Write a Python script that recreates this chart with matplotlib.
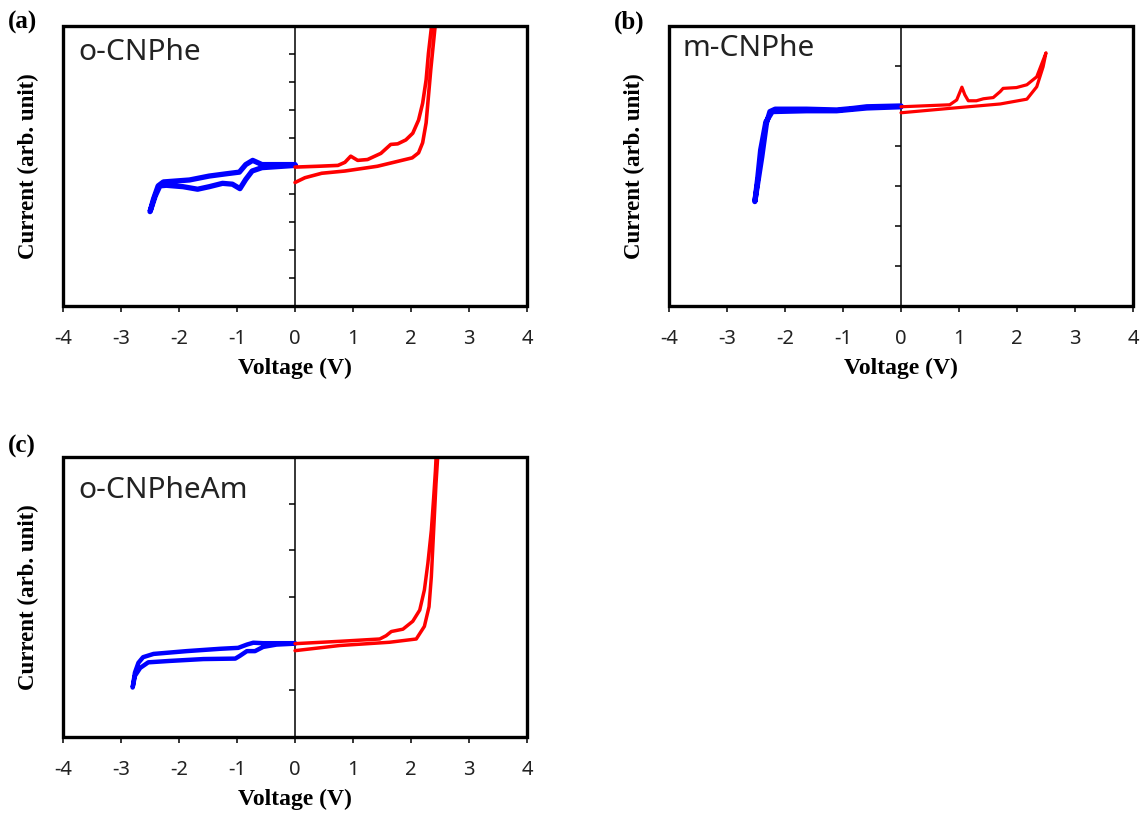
import matplotlib
matplotlib.use('Agg')
import matplotlib.pyplot as plt
from matplotlib.patches import Rectangle

plt.rcParams['axes.unicode_minus'] = False

# ---- data (voltage in V, current in arb. units = y tick steps) ----
# (a) o-CNPhe
a_blue_v = [0, -0.57, -0.73, -0.85, -0.96, -1.19, -1.48, -1.82, -2.27, -2.36, -2.44, -2.50,
            -2.41, -2.33, -2.22, -1.93, -1.68, -1.48, -1.25, -1.08, -0.95, -0.85, -0.74, -0.57, 0]
a_blue_i = [0.05, 0.05, 0.20, 0.05, -0.22, -0.28, -0.36, -0.50, -0.57, -0.71, -1.18, -1.63,
            -1.07, -0.71, -0.69, -0.74, -0.83, -0.74, -0.62, -0.65, -0.81, -0.48, -0.18, -0.06, 0.02]
a_red_v = [0, 0.4, 0.74, 0.86, 0.96, 1.08, 1.25, 1.48, 1.65, 1.77, 1.91, 2.03, 2.13, 2.20, 2.26,
           2.30, 2.34, 2.37, 2.43, 2.38, 2.34, 2.30, 2.26, 2.20, 2.13, 2.02, 1.78, 1.42, 0.86,
           0.46, 0.17, 0]
a_red_i = [-0.04, -0.01, 0.02, 0.13, 0.35, 0.20, 0.23, 0.45, 0.77, 0.79, 0.93, 1.17, 1.64, 2.24,
           3.07, 4.02, 4.74, 5.3, 5.3, 4.27, 3.44, 2.49, 1.54, 0.83, 0.47, 0.29, 0.17, -0.01,
           -0.18, -0.26, -0.42, -0.59]

# (b) m-CNPhe
b_blue_v = [0, -0.59, -0.82, -1.11, -1.63, -2.17, -2.26, -2.32, -2.40, -2.52,
            -2.47, -2.42, -2.33, -2.22, -1.63, -1.11, -0.59, 0]
b_blue_i = [0.0, -0.02, -0.06, -0.10, -0.08, -0.08, -0.14, -0.43, -1.27, -2.39,
            -1.80, -1.10, -0.40, -0.14, -0.12, -0.12, -0.05, -0.02]
b_red_v = [0, 0.84, 0.96, 1.05, 1.10, 1.16, 1.30, 1.42, 1.59, 1.71, 1.76, 1.99, 2.17, 2.34,
           2.50, 2.45, 2.34, 2.17, 1.71, 0.84, 0]
b_red_i = [-0.02, 0.03, 0.15, 0.47, 0.28, 0.13, 0.13, 0.18, 0.21, 0.36, 0.44, 0.46, 0.53, 0.73,
           1.33, 0.98, 0.48, 0.17, 0.05, -0.06, -0.17]

# (c) o-CNPheAm
c_blue_v = [0, -0.55, -0.72, -0.83, -0.98, -1.29, -1.87, -2.44, -2.62, -2.70, -2.76, -2.80,
            -2.76, -2.67, -2.53, -2.16, -1.58, -1.03, -0.95, -0.83, -0.69, -0.55, -0.32, 0]
c_blue_i = [0.01, 0.01, 0.02, -0.02, -0.09, -0.11, -0.16, -0.22, -0.29, -0.41, -0.62, -0.94,
            -0.69, -0.52, -0.40, -0.37, -0.33, -0.32, -0.26, -0.16, -0.16, -0.07, -0.02, 0.0]
c_red_v = [0, 0.77, 1.46, 1.57, 1.66, 1.86, 2.03, 2.15, 2.23, 2.29, 2.35, 2.39, 2.42, 2.44,
           2.47, 2.43, 2.39, 2.35, 2.31, 2.23, 2.09, 1.63, 0.77, 0]
c_red_i = [0, 0.05, 0.10, 0.17, 0.26, 0.31, 0.48, 0.72, 1.15, 1.72, 2.43, 3.13, 3.70, 4.2,
           4.2, 3.42, 2.43, 1.43, 0.79, 0.37, 0.10, 0.03, -0.04, -0.15]

panels = [
    ('(a)', 'o-CNPhe', a_blue_v, a_blue_i, a_red_v, a_red_i, (-5, 5), 3.8, 2.6, (0.032, 0.907)),
    ('(b)', 'm-CNPhe', b_blue_v, b_blue_i, b_red_v, b_red_i, (-5, 2), 3.8, 2.3, (0.028, 0.921)),
    ('(c)', 'o-CNPheAm', c_blue_v, c_blue_i, c_red_v, c_red_i, (-2, 4), 3.2, 2.5, (0.032, 0.882)),
]
positions = [[0.0551, 0.6241, 0.4056, 0.3440],
             [0.5848, 0.6241, 0.4056, 0.3440],
             [0.0551, 0.0946, 0.4056, 0.3440]]
letter_pos = [(0.007, 0.973), (0.537, 0.973), (0.007, 0.451)]

fig = plt.figure(figsize=(11.44, 8.14), dpi=100)
serif = 'Liberation Serif'
sans = 'Noto Sans'

for (tag, name, bv, bi, rv, ri, ylim, blw, rlw, npos), pos, lp in zip(panels, positions, letter_pos):
    ax = fig.add_axes(pos)
    ax.plot(bv, bi, color='#0000FF', lw=blw, solid_joinstyle='round', solid_capstyle='round', zorder=3)
    ax.plot(rv, ri, color='#FF0000', lw=rlw, solid_joinstyle='round', solid_capstyle='round', zorder=3)
    ax.set_xlim(-4, 4)
    ax.set_ylim(*ylim)
    ax.set_xticks(range(-4, 5))
    ax.set_yticks(range(ylim[0] + 1, ylim[1]))
    ax.set_yticklabels([])
    # y axis sits on V = 0
    ax.spines['left'].set_position(('data', 0))
    ax.spines['left'].set_linewidth(1.1)
    for s in ['top', 'right', 'bottom']:
        ax.spines[s].set_visible(False)
    ax.add_patch(Rectangle((0, 0), 1, 1, transform=ax.transAxes, fill=False,
                           lw=2.4, ec='black', clip_on=False, zorder=5))
    ax.tick_params(axis='y', direction='out', length=4, width=1.1)
    ax.tick_params(axis='x', direction='out', length=4.5, width=1.1, pad=12,
                   labelsize=14.5)
    for lab in ax.get_xticklabels():
        lab.set_fontfamily(sans)
        lab.set_color('#222222')
    ax.set_xlabel('Voltage (V)', fontfamily=serif, fontweight='bold', fontsize=17)
    ax.xaxis.set_label_coords(0.5, -0.222)
    ax.xaxis.label.set_va('center')
    ax.set_ylabel('Current (arb. unit)', fontfamily=serif, fontweight='bold', fontsize=16.5)
    ax.yaxis.set_label_coords(-0.074, 0.5)
    ax.yaxis.label.set_va('center')
    ax.text(npos[0], npos[1], name, transform=ax.transAxes, fontfamily=sans,
            fontsize=21.5, va='center', ha='left', color='#222222')
    fig.text(lp[0], lp[1], tag, fontfamily=serif, fontweight='bold', fontsize=18,
             va='center', ha='left')

fig.savefig('out.png', dpi=100)
